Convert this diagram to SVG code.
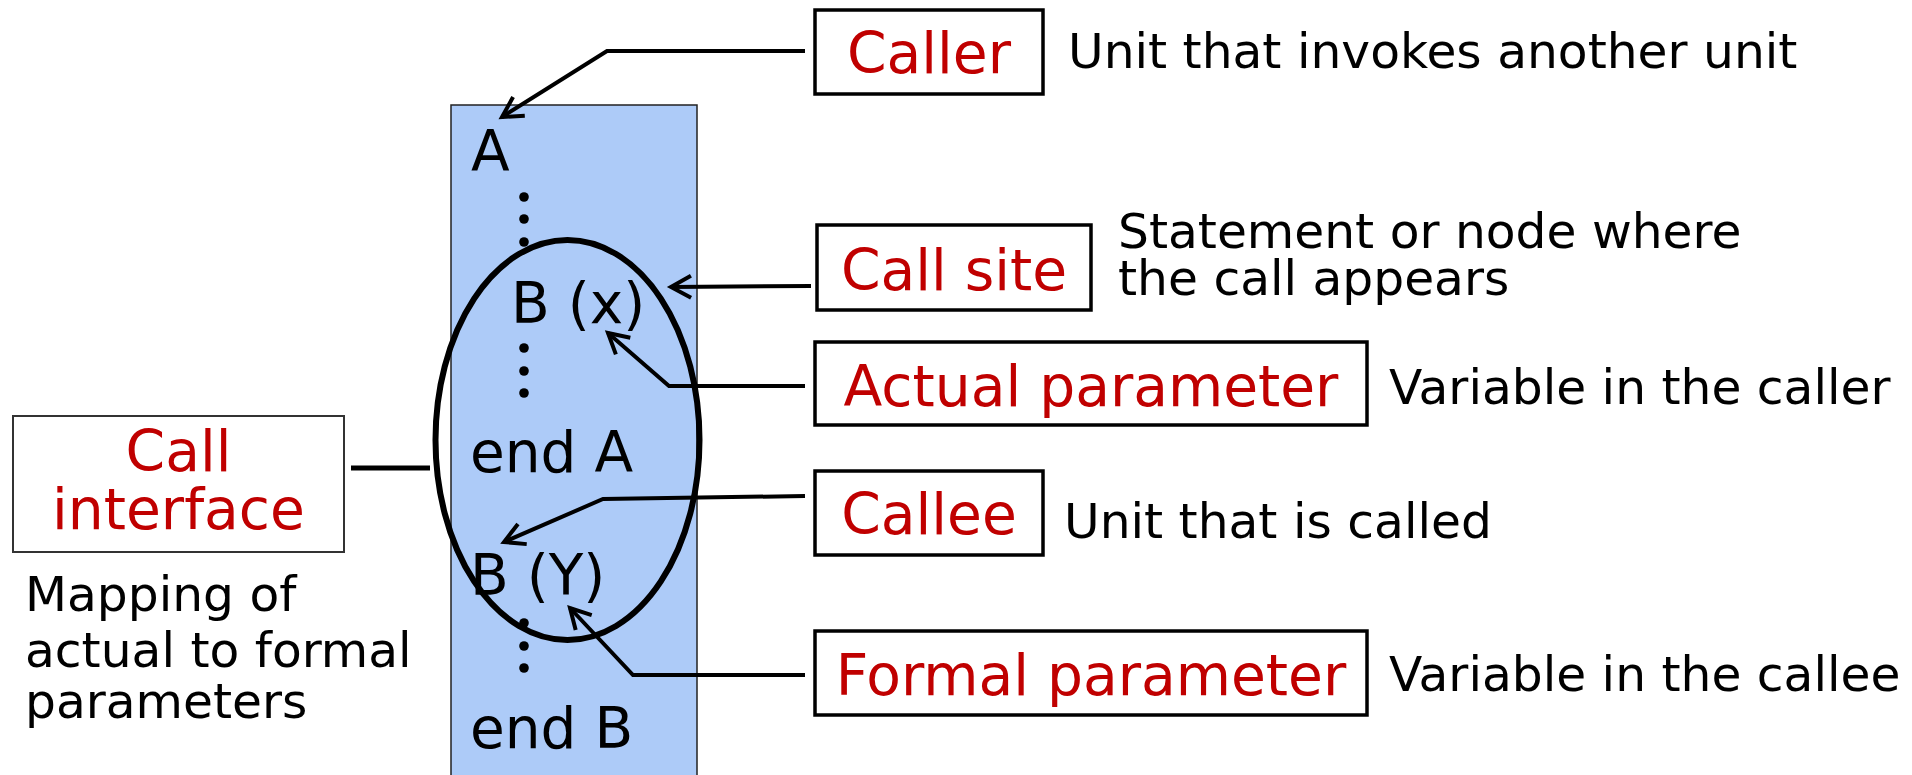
<svg xmlns="http://www.w3.org/2000/svg" width="1912" height="775" viewBox="0 0 1912 775">
  <style>
    .box { fill: #ffffff; stroke: #000000; stroke-width: 3.5; }
    .label { font-family: "DejaVu Sans", Verdana, sans-serif; font-size: 56.7px; fill: #c00000; text-anchor: middle; }
    .code { font-family: "DejaVu Sans", Verdana, sans-serif; font-size: 56.5px; fill: #000000; }
    .desc { font-family: "DejaVu Sans", Verdana, sans-serif; font-size: 48.7px; fill: #000000; }
    .wire { fill: none; stroke: #000000; stroke-width: 4; stroke-linejoin: miter; }
    .dot { fill: #000000; }
  </style>
  <defs>
    <marker id="open-arrow" markerUnits="userSpaceOnUse" markerWidth="30" markerHeight="30" viewBox="-24 -15 30 30" refX="0" refY="0" orient="auto">
      <path d="M-20,-11 L0,0 L-20,11" fill="none" stroke="#000000" stroke-width="4"/>
    </marker>
  </defs>

  <rect width="1912" height="775" fill="#ffffff"/>

  <!-- program unit listing -->
  <g id="unit-listing">
    <rect x="451" y="105" width="246" height="680" fill="#adcbf8" stroke="#222222" stroke-width="1.5"/>
    <text class="code" x="471" y="171">A</text>
    <circle class="dot" cx="524" cy="197" r="4.8"/>
    <circle class="dot" cx="524" cy="219" r="4.8"/>
    <circle class="dot" cx="524" cy="242" r="4.8"/>
    <text class="code" x="511" y="323">B (x)</text>
    <circle class="dot" cx="524" cy="348" r="4.8"/>
    <circle class="dot" cx="524" cy="371" r="4.8"/>
    <circle class="dot" cx="524" cy="393" r="4.8"/>
    <text class="code" x="470" y="472">end A</text>
    <text class="code" x="470" y="595">B (Y)</text>
    <circle class="dot" cx="524" cy="623" r="4.8"/>
    <circle class="dot" cx="524" cy="646" r="4.8"/>
    <circle class="dot" cx="524" cy="668" r="4.8"/>
    <text class="code" x="470" y="748">end B</text>
  </g>

  <!-- call interface outline -->
  <g id="interface-ellipse">
    <ellipse cx="567.5" cy="440" rx="132" ry="200" fill="none" stroke="#000000" stroke-width="6"/>
  </g>

  <g id="call-interface">
    <rect x="13" y="416" width="331" height="136" fill="#ffffff" stroke="#333333" stroke-width="2"/>
    <text class="label" x="178.5" y="471">Call</text>
    <text class="label" x="178.5" y="529">interface</text>
    <text class="desc" x="25" y="611">Mapping of</text>
    <text class="desc" x="25" y="667">actual to formal</text>
    <text class="desc" x="25" y="718">parameters</text>
  </g>

  <g id="caller">
    <rect class="box" x="815" y="10" width="228" height="84"/>
    <text class="label" x="929" y="73">Caller</text>
    <text class="desc" x="1068" y="68">Unit that invokes another unit</text>
  </g>

  <g id="call-site">
    <rect class="box" x="817" y="225" width="274" height="85"/>
    <text class="label" x="954" y="290">Call site</text>
    <text class="desc" x="1118" y="248">Statement or node where</text>
    <text class="desc" x="1118" y="295">the call appears</text>
  </g>

  <g id="actual-parameter">
    <rect class="box" x="815" y="342" width="552" height="83"/>
    <text class="label" x="1091" y="406">Actual parameter</text>
    <text class="desc" x="1389" y="404">Variable in the caller</text>
  </g>

  <g id="callee">
    <rect class="box" x="815" y="471" width="228" height="84"/>
    <text class="label" x="929" y="534">Callee</text>
    <text class="desc" x="1064" y="538">Unit that is called</text>
  </g>

  <g id="formal-parameter">
    <rect class="box" x="815" y="631" width="552" height="84"/>
    <text class="label" x="1091" y="695">Formal parameter</text>
    <text class="desc" x="1389" y="691">Variable in the callee</text>
  </g>

  <!-- connectors -->
  <g id="connectors">
    <line x1="351" y1="468" x2="430" y2="468" stroke="#000000" stroke-width="5"/>
    <polyline class="wire" points="805,51 607,51 502,117" marker-end="url(#open-arrow)"/>
    <polyline class="wire" points="811,286 671,287" marker-end="url(#open-arrow)"/>
    <polyline class="wire" points="805,386 669,386 608,333" marker-end="url(#open-arrow)"/>
    <polyline class="wire" points="805,496 603,499 504,542" marker-end="url(#open-arrow)"/>
    <polyline class="wire" points="805,675 633,675 570,608" marker-end="url(#open-arrow)"/>
  </g>
</svg>
